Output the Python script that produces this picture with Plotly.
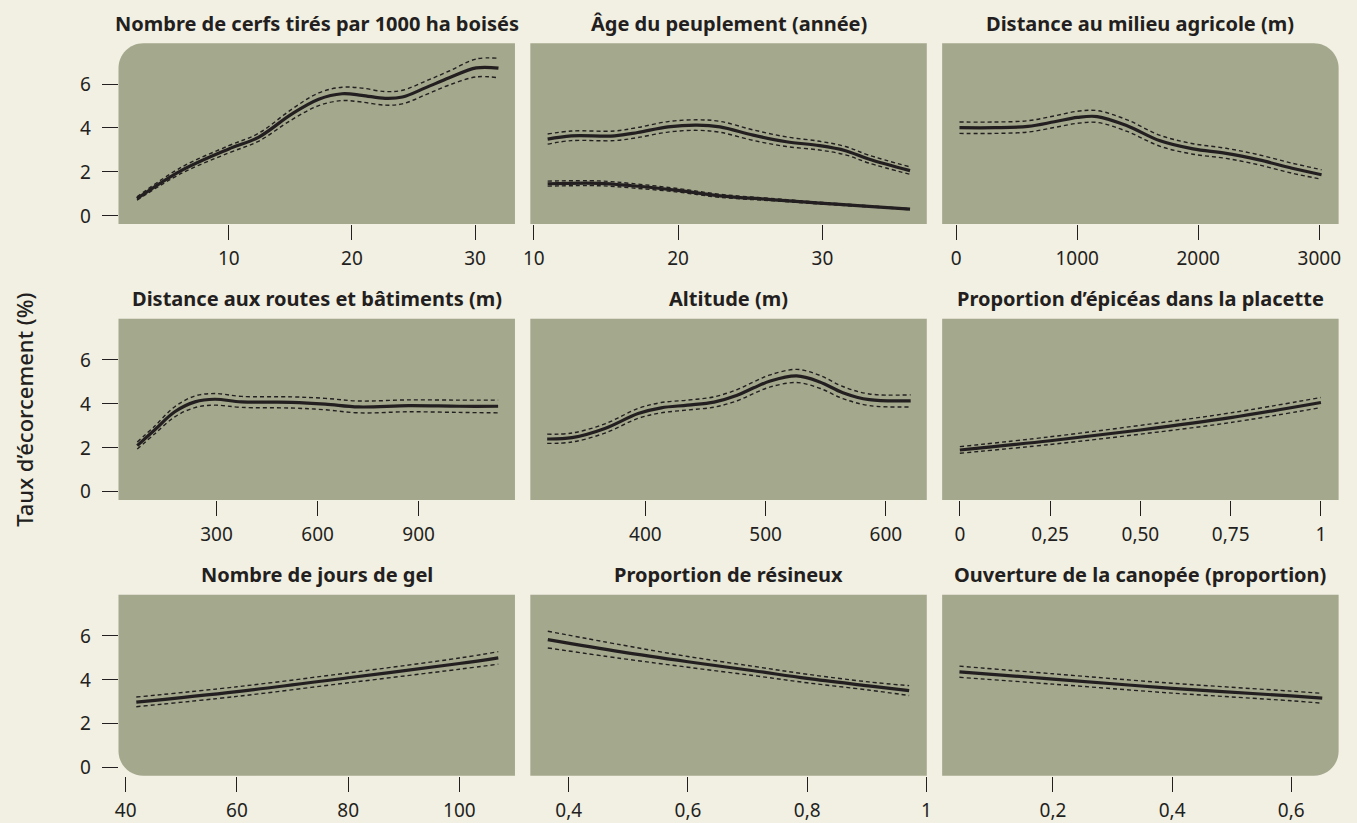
import plotly.graph_objects as go

# ---------------- data ----------------
titles = [
    "Nombre de cerfs tirés par 1000 ha boisés",
    "Âge du peuplement (année)",
    "Distance au milieu agricole (m)",
    "Distance aux routes et bâtiments (m)",
    "Altitude (m)",
    "Proportion d’épicéas dans la placette",
    "Nombre de jours de gel",
    "Proportion de résineux",
    "Ouverture de la canopée (proportion)",
]
y_title = "Taux d’écorcement (%)"
y_ticks = [0, 2, 4, 6]
y_ticktext = ["0", "2", "4", "6"]

# panel 1 : cerfs
cerfs_x = [2.54, 6.13, 10, 12.4, 15.1, 17.3, 19.2, 20.8, 22.7, 24.1, 26.0, 27.9, 30.1, 31.9]
cerfs_y = [0.77, 2.05, 3.04, 3.57, 4.63, 5.31, 5.56, 5.49, 5.35, 5.41, 5.84, 6.29, 6.74, 6.73]
cerfs_hi = [0.85, 2.20, 3.19, 3.75, 4.85, 5.60, 5.86, 5.82, 5.66, 5.72, 6.14, 6.60, 7.15, 7.18]
cerfs_lo = [0.70, 1.92, 2.86, 3.39, 4.37, 5.02, 5.25, 5.18, 5.04, 5.10, 5.52, 5.96, 6.33, 6.29]
cerfs_ticks = [10, 20, 30]
cerfs_ticktext = ["10", "20", "30"]

# panel 2 : âge (two curves)
age_x = [10.96, 12.6, 15.6, 17.2, 19.3, 21.3, 22.9, 25.2, 27.5, 29.8, 31.6, 33.2, 36.07]
age_y = [3.49, 3.64, 3.64, 3.79, 4.05, 4.13, 4.05, 3.67, 3.37, 3.19, 2.96, 2.58, 2.05]
age_hi = [3.72, 3.86, 3.86, 4.02, 4.29, 4.37, 4.30, 3.91, 3.59, 3.39, 3.15, 2.76, 2.22]
age_lo = [3.26, 3.42, 3.42, 3.56, 3.81, 3.89, 3.80, 3.43, 3.15, 2.99, 2.77, 2.40, 1.88]
age2_x = [10.96, 14.5, 16.8, 20.0, 22.9, 26.4, 29.8, 33.2, 36.07]
age2_y = [1.45, 1.47, 1.36, 1.15, 0.90, 0.73, 0.57, 0.42, 0.29]
age2_hi = [1.57, 1.58, 1.46, 1.23, 0.97, 0.78, 0.61, 0.45, 0.31]
age2_lo = [1.34, 1.36, 1.26, 1.07, 0.83, 0.68, 0.53, 0.39, 0.27]
age_ticks = [10, 20, 30]
age_ticktext = ["10", "20", "30"]

# panel 3 : distance milieu agricole
agri_x = [27, 319, 592, 811, 1002, 1165, 1412, 1685, 1957, 2230, 2503, 2776, 3019]
agri_y = [4.01, 4.01, 4.07, 4.28, 4.48, 4.52, 4.10, 3.41, 3.04, 2.84, 2.54, 2.16, 1.86]
agri_hi = [4.27, 4.27, 4.33, 4.55, 4.76, 4.79, 4.37, 3.66, 3.28, 3.07, 2.77, 2.39, 2.09]
agri_lo = [3.75, 3.75, 3.81, 4.02, 4.21, 4.25, 3.84, 3.16, 2.80, 2.61, 2.31, 1.93, 1.66]
agri_ticks = [0, 1000, 2000, 3000]
agri_ticktext = ["0", "1000", "2000", "3000"]

# panel 4 : distance routes et bâtiments
route_x = [64.6, 116, 176, 236, 295, 374, 523, 623, 722, 871, 1020, 1136]
route_y = [2.09, 2.80, 3.63, 4.08, 4.20, 4.08, 4.06, 3.98, 3.85, 3.91, 3.88, 3.88]
route_hi = [2.25, 2.97, 3.86, 4.35, 4.46, 4.33, 4.31, 4.24, 4.12, 4.17, 4.16, 4.16]
route_lo = [1.93, 2.62, 3.40, 3.82, 3.93, 3.83, 3.80, 3.72, 3.58, 3.63, 3.60, 3.58]
route_ticks = [300, 600, 900]
route_ticktext = ["300", "600", "900"]

# panel 5 : altitude
alt_x = [318.4, 339, 366.4, 394, 413.2, 435.2, 457.1, 476.4, 490.1, 503.9, 525.8, 545, 564.2, 586.2, 620.6]
alt_y = [2.39, 2.45, 2.87, 3.55, 3.81, 3.93, 4.07, 4.38, 4.72, 5.03, 5.26, 4.99, 4.50, 4.18, 4.13]
alt_hi = [2.61, 2.66, 3.08, 3.78, 4.05, 4.16, 4.31, 4.64, 4.99, 5.31, 5.56, 5.29, 4.78, 4.44, 4.40]
alt_lo = [2.19, 2.25, 2.66, 3.33, 3.58, 3.71, 3.84, 4.13, 4.46, 4.76, 4.96, 4.70, 4.23, 3.91, 3.85]
alt_ticks = [400, 500, 600]
alt_ticktext = ["400", "500", "600"]

# panel 6 : proportion d'épicéas
epi_x = [0, 0.25, 0.5, 0.75, 1.0]
epi_y = [1.89, 2.31, 2.80, 3.36, 4.05]
epi_hi = [2.04, 2.49, 3.01, 3.58, 4.28]
epi_lo = [1.74, 2.14, 2.61, 3.14, 3.82]
epi_ticks = [0, 0.25, 0.5, 0.75, 1]
epi_ticktext = ["0", "0,25", "0,50", "0,75", "1"]

# panel 7 : jours de gel
gel_x = [41.9, 60, 80, 100, 107]
gel_y = [2.97, 3.45, 4.08, 4.73, 4.99]
gel_hi = [3.20, 3.67, 4.30, 4.98, 5.27]
gel_lo = [2.76, 3.23, 3.85, 4.47, 4.70]
gel_ticks = [40, 60, 80, 100]
gel_ticktext = ["40", "60", "80", "100"]

# panel 8 : proportion de résineux
res_x = [0.365, 0.488, 0.6, 0.71, 0.8, 0.903, 0.971]
res_y = [5.82, 5.26, 4.81, 4.40, 4.05, 3.71, 3.49]
res_hi = [6.20, 5.58, 5.05, 4.60, 4.24, 3.89, 3.72]
res_lo = [5.44, 4.96, 4.56, 4.18, 3.85, 3.52, 3.27]
res_ticks = [0.4, 0.6, 0.8, 1]
res_ticktext = ["0,4", "0,6", "0,8", "1"]

# panel 9 : ouverture canopée
can_x = [0.043, 0.2, 0.4, 0.6, 0.652]
can_y = [4.35, 4.02, 3.60, 3.25, 3.15]
can_hi = [4.61, 4.26, 3.83, 3.47, 3.37]
can_lo = [4.10, 3.79, 3.38, 3.03, 2.92]
can_ticks = [0.2, 0.4, 0.6]
can_ticktext = ["0,2", "0,4", "0,6"]

panels = [
    dict(curves=[(cerfs_x, cerfs_y, cerfs_lo, cerfs_hi)], xr=[1.04, 33.24], tv=cerfs_ticks, tt=cerfs_ticktext),
    dict(curves=[(age_x, age_y, age_lo, age_hi), (age2_x, age2_y, age2_lo, age2_hi)], xr=[9.76, 37.23], tv=age_ticks, tt=age_ticktext),
    dict(curves=[(agri_x, agri_y, agri_lo, agri_hi)], xr=[-116, 3160], tv=agri_ticks, tt=agri_ticktext),
    dict(curves=[(route_x, route_y, route_lo, route_hi)], xr=[9, 1186], tv=route_ticks, tt=route_ticktext),
    dict(curves=[(alt_x, alt_y, alt_lo, alt_hi)], xr=[304.4, 634], tv=alt_ticks, tt=alt_ticktext),
    dict(curves=[(epi_x, epi_y, epi_lo, epi_hi)], xr=[-0.049, 1.049], tv=epi_ticks, tt=epi_ticktext),
    dict(curves=[(gel_x, gel_y, gel_lo, gel_hi)], xr=[38.7, 110], tv=gel_ticks, tt=gel_ticktext),
    dict(curves=[(res_x, res_y, res_lo, res_hi)], xr=[0.3357, 1.0006], tv=res_ticks, tt=res_ticktext),
    dict(curves=[(can_x, can_y, can_lo, can_hi)], xr=[0.014, 0.6795], tv=can_ticks, tt=can_ticktext),
]
y_range = [-0.39, 7.87]

# ---------------- style / layout ----------------
W, H = 1357, 823
BG = "#f2efe3"
PANEL = "#a4a88c"
INK = "#231f20"
FONT = "Noto Sans"
col_px = [(112.5, 512.5), (528, 928), (943.5, 1343.5)]
row_px = [(43.5, 225.7), (321, 503.7), (599, 781.5)]
RADIUS = 25
YLABEL_RIGHT = 87  # px, right edge of the y tick labels

def px_x(v):
    return v / W

def px_y(v):
    return 1 - v / H

def rounded_path(x0, x1, y0, y1, rtl, rtr, rbr, rbl):
    k = 0.5523
    def P(x, y):
        return f"{px_x(x):.6f},{px_y(y):.6f}"
    s = f"M {P(x0 + rtl, y0)} L {P(x1 - rtr, y0)} "
    if rtr:
        s += f"C {P(x1 - rtr + k * rtr, y0)} {P(x1, y0 + rtr - k * rtr)} {P(x1, y0 + rtr)} "
    s += f"L {P(x1, y1 - rbr)} "
    if rbr:
        s += f"C {P(x1, y1 - rbr + k * rbr)} {P(x1 - rbr + k * rbr, y1)} {P(x1 - rbr, y1)} "
    s += f"L {P(x0 + rbl, y1)} "
    if rbl:
        s += f"C {P(x0 + rbl - k * rbl, y1)} {P(x0, y1 - rbl + k * rbl)} {P(x0, y1 - rbl)} "
    s += f"L {P(x0, y0 + rtl)} "
    if rtl:
        s += f"C {P(x0, y0 + rtl - k * rtl)} {P(x0 + rtl - k * rtl, y0)} {P(x0 + rtl, y0)} "
    s += "Z"
    return s

fig = go.Figure()
shapes = []
annotations = []
layout = {}

for i, p in enumerate(panels):
    r, c = divmod(i, 3)
    n = i + 1
    xa = f"x{n if n > 1 else ''}"
    ya = f"y{n if n > 1 else ''}"
    (x0, x1), (y0, y1) = col_px[c], row_px[r]

    for (xs, ys, lo, hi) in p["curves"]:
        for band in (lo, hi):
            fig.add_trace(go.Scatter(
                x=xs, y=band, mode="lines", xaxis=xa, yaxis=ya,
                line=dict(color=INK, width=1.4, dash="4px,3px", shape="spline", smoothing=1.0),
                hoverinfo="skip", showlegend=False))
        fig.add_trace(go.Scatter(
            x=xs, y=ys, mode="lines", xaxis=xa, yaxis=ya,
            line=dict(color=INK, width=3.2, shape="spline", smoothing=1.0),
            showlegend=False))

    layout[f"xaxis{n if n > 1 else ''}"] = dict(
        domain=[px_x(x0), px_x(x1)], anchor=ya, range=p["xr"],
        tickvals=p["tv"], ticktext=p["tt"], ticks="outside", ticklen=15,
        tickwidth=1.3, tickcolor=INK, showgrid=False, zeroline=False,
        showline=False, tickfont=dict(family=FONT, size=19, color=INK),
        ticklabelstandoff=2, fixedrange=True)
    ydict = dict(
        domain=[px_y(y1), px_y(y0)], anchor=xa, range=y_range,
        showgrid=False, zeroline=False, showline=False, fixedrange=True,
        showticklabels=False)
    if c == 0:
        ydict.update(tickvals=y_ticks, ticks="outside",
                     ticklen=16, tickwidth=1.3, tickcolor=INK)
        for v, t in zip(y_ticks, y_ticktext):
            annotations.append(dict(
                text=t, xref="paper", yref=ya, x=px_x(YLABEL_RIGHT), y=v,
                xanchor="right", yanchor="middle", showarrow=False,
                font=dict(family=FONT, size=19, color=INK)))
    else:
        ydict.update(ticks="")
    layout[f"yaxis{n if n > 1 else ''}"] = ydict

    rtl = RADIUS if (r == 0 and c == 0) else 0
    rtr = RADIUS if (r == 0 and c == 2) else 0
    rbl = RADIUS if (r == 2 and c == 0) else 0
    rbr = RADIUS if (r == 2 and c == 2) else 0
    shapes.append(dict(type="path", xref="paper", yref="paper",
                       path=rounded_path(x0, x1, y0, y1, rtl, rtr, rbr, rbl),
                       fillcolor=PANEL, line=dict(width=0), layer="below"))

    annotations.append(dict(
        text=f"<b>{titles[i]}</b>", xref="paper", yref="paper",
        x=px_x((x0 + x1) / 2), y=px_y(y0 - 20), xanchor="center", yanchor="middle",
        showarrow=False, font=dict(family=FONT, size=20, color=INK)))

annotations.append(dict(
    text=y_title, xref="paper", yref="paper", x=px_x(17), y=px_y(413),
    xanchor="center", yanchor="middle", textangle=-90, showarrow=False,
    font=dict(family=FONT, size=22, color=INK, weight=500)))

fig.update_layout(
    width=W, height=H, margin=dict(l=0, r=0, t=0, b=0),
    paper_bgcolor=BG, plot_bgcolor="rgba(0,0,0,0)",
    shapes=shapes, annotations=annotations, showlegend=False,
    font=dict(family=FONT, color=INK), **layout)

page_fix = (
    "document.documentElement.style.margin='0';"
    "document.body.style.margin='0';"
    "document.body.style.padding='0';"
    "document.body.style.overflow='hidden';"
    f"document.body.style.background='{BG}';"
)
fig.write_html("out.html", config={"displayModeBar": False}, post_script=page_fix)
